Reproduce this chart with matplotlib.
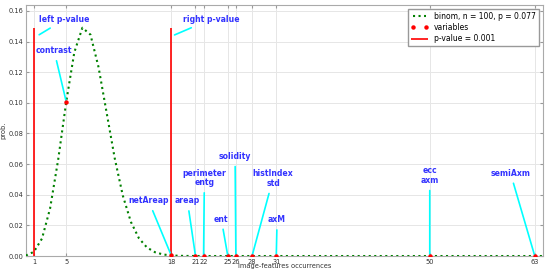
import matplotlib
matplotlib.use("Agg")
import matplotlib.pyplot as plt
from matplotlib.ticker import FormatStrFormatter

# binomial pmf, n = 100, p = 0.077, k = 0..63
pmf = [0.000331, 0.002762, 0.011405, 0.031081, 0.062878, 0.100714, 0.133031,
       0.149030, 0.144529, 0.123252, 0.093568, 0.063866, 0.039516, 0.022315,
       0.011569, 0.005533, 0.002452, 0.001011, 0.000389, 0.000140, 0.0000473,
       0.0000150, 0.0000045,
       0, 0, 0, 0, 0, 0, 0, 0, 0, 0, 0, 0, 0, 0, 0, 0, 0, 0, 0, 0, 0, 0, 0,
       0, 0, 0, 0, 0, 0, 0, 0, 0, 0, 0, 0, 0, 0, 0, 0, 0, 0, 0, 0]
k_values = list(range(len(pmf)))

# variables: occurrence count and label
var_counts = [5, 18, 21, 22, 25, 26, 28, 31, 50, 63]
var_labels = ["contrast", "netAreap", "areap", "perimeter\nentg", "ent",
              "solidity", "histIndex\nstd", "axM", "ecc\naxm", "semiAxm"]
# text positions (x, y) in data units
var_text_pos = [(3.5, 0.134), (15.2, 0.036), (20.0, 0.036), (22.1, 0.051),
                (24.2, 0.024), (25.9, 0.065), (30.6, 0.0505), (31.1, 0.0236),
                (50.0, 0.0525), (60.0, 0.054)]

p_value_left = 1
p_value_right = 18
x_ticks = [1, 5, 18, 21, 22, 25, 26, 28, 31, 50, 63]

fig = plt.figure(figsize=(5.5, 2.75), dpi=100)
ax = fig.add_axes([0.047, 0.069, 0.94, 0.913])

ax.plot(k_values, pmf, color='green', linestyle=':', linewidth=1.5,
        label='binom, n = 100, p = 0.077', zorder=3)

var_probs = [pmf[c] for c in var_counts]
ax.plot(var_counts, var_probs, 'o', color='red', markersize=2.2,
        label='variables', zorder=4)

peak = max(pmf)
ax.vlines([p_value_left, p_value_right], 0, peak, color='red', linewidth=1.2,
          label='p-value = 0.001', zorder=3)

text_color = '#3333ff'
arrow = dict(arrowstyle='-', color='cyan', linewidth=1.2, shrinkA=2, shrinkB=1)

ax.annotate('left p-value', xy=(1.5, 0.144), xytext=(4.8, 0.1545),
            ha='center', va='center', color=text_color, fontsize=5.6,
            fontweight='bold', arrowprops=arrow)
ax.annotate('right p-value', xy=(18.25, 0.144), xytext=(22.9, 0.1545),
            ha='center', va='center', color=text_color, fontsize=5.6,
            fontweight='bold', arrowprops=arrow)

for c, prob, lab, pos in zip(var_counts, var_probs, var_labels, var_text_pos):
    ax.annotate(lab, xy=(c, prob), xytext=pos, ha='center', va='center',
                color=text_color, fontsize=5.6, fontweight='bold',
                linespacing=1.1, arrowprops=arrow)

ax.set_xlim(0, 64)
ax.set_ylim(0, peak * 1.1)
ax.set_xticks(x_ticks)
ax.set_yticks([0.0, 0.02, 0.04, 0.06, 0.08, 0.10, 0.12, 0.14, 0.16])
ax.yaxis.set_major_formatter(FormatStrFormatter('%.2f'))
ax.tick_params(labelsize=4.8, length=2, color='#999999', top=True,
               right=True, direction='in', pad=2, labelcolor='#333333')
ax.grid(True, color='#e6e6e6', linewidth=0.7)
ax.set_axisbelow(True)
for s in ax.spines.values():
    s.set_color('#aaaaaa')

ax.set_xlabel('image-features occurrences', fontsize=4.8, labelpad=-1,
              color='#333333')
ax.set_ylabel('prob.', fontsize=4.8, labelpad=1, color='#333333')

ax.legend(loc='upper right', fontsize=5.5, numpoints=2, framealpha=1,
          edgecolor='#999999', fancybox=False, handlelength=2.2,
          borderpad=0.4, labelspacing=0.3)

fig.savefig('out.png', dpi=100)
